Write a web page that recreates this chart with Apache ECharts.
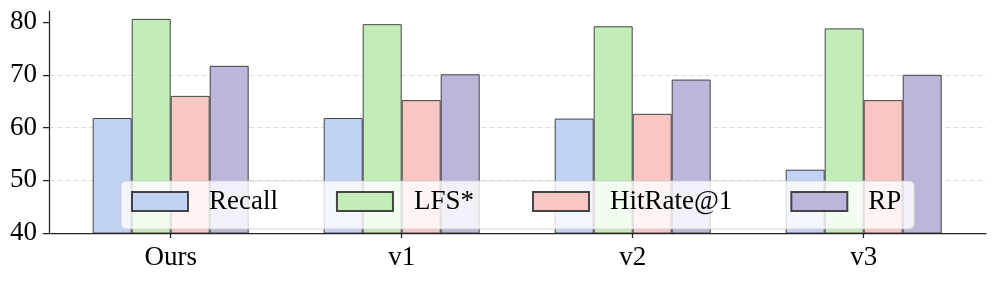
<!DOCTYPE html>
<html><head><meta charset="utf-8">
<script src="https://cdn.jsdelivr.net/npm/echarts@6/dist/echarts.min.js"></script>
<style>html,body{margin:0;padding:0;background:#fff}#c{width:996px;height:281px}</style>
</head><body><div id="c"></div>
<script>
const categories = ['Ours', 'v1', 'v2', 'v3'];
const seriesNames = ['Recall', 'LFS*', 'HitRate@1', 'RP'];
const recall = [61.8, 61.8, 61.7, 52.0];
const lfs = [80.6, 79.6, 79.2, 78.8];
const hitRate = [66.0, 65.2, 62.6, 65.2];
const rp = [71.7, 70.1, 69.1, 70.0];
const yTicks = [40, 50, 60, 70, 80];
const colors = ['#c1d3f5', '#c3edb8', '#f8c6c3', '#bcb6da'];
const values = [recall, lfs, hitRate, rp];

const FONT = '"Liberation Serif", "DejaVu Serif", serif';
const chart = echarts.init(document.getElementById('c'), null, {renderer: 'canvas'});
const yMin = 40, yMax = 82.1;
chart.setOption({
  animation: false,
  grid: [
    {left: 49, right: 10, top: 11, bottom: 48},
    {left: 55.2, right: 16.8, top: 11, bottom: 48}
  ],
  legend: {
    data: seriesNames,
    left: 121, top: 181,
    orient: 'horizontal',
    icon: 'rect',
    itemWidth: 56, itemHeight: 19, itemGap: 58,
    padding: [7, 13, 14, 10],
    backgroundColor: 'rgba(255,255,255,0.8)',
    borderColor: 'rgba(204,204,204,0.8)',
    borderWidth: 1,
    borderRadius: 5,
    textStyle: {fontFamily: FONT, fontSize: 27, color: '#000', padding: [0, 0, 0, 16]}
  },
  xAxis: [
    {gridIndex: 0, type: 'value', min: 0, max: 1,
     axisLine: {show: true, onZero: false, lineStyle: {color: '#222', width: 1.25}},
     axisTick: {show: false}, axisLabel: {show: false}, splitLine: {show: false}},
    {gridIndex: 1, type: 'category', data: categories,
     axisLine: {show: false},
     axisTick: {show: true, alignWithLabel: true, length: 5, lineStyle: {color: '#222', width: 1.25}},
     axisLabel: {fontFamily: FONT, fontSize: 27, color: '#000', margin: 11},
     splitLine: {show: false}}
  ],
  yAxis: [
    {gridIndex: 0, type: 'value', min: yMin, max: yMax, interval: 10,
     axisLine: {show: true, lineStyle: {color: '#222', width: 1.25}},
     axisTick: {show: true, length: 6, customValues: yTicks, lineStyle: {color: '#222', width: 1.25}},
     axisLabel: {fontFamily: FONT, fontSize: 27, color: '#000', margin: 12, customValues: yTicks},
     splitLine: {show: true, showMinLine: false, showMaxLine: false,
                 lineStyle: {color: '#dcdcdc', type: [5, 3], width: 1}}},
    {gridIndex: 1, type: 'value', min: yMin, max: yMax, show: false,
     splitLine: {show: false}}
  ],
  series: seriesNames.map((name, i) => ({
    name: name,
    type: 'bar',
    xAxisIndex: 1, yAxisIndex: 1,
    data: values[i],
    barWidth: 39,
    barGap: '0%',
    itemStyle: {color: colors[i], borderColor: 'rgba(50,50,50,0.9)', borderWidth: 1}
  }))
});
</script></body></html>
